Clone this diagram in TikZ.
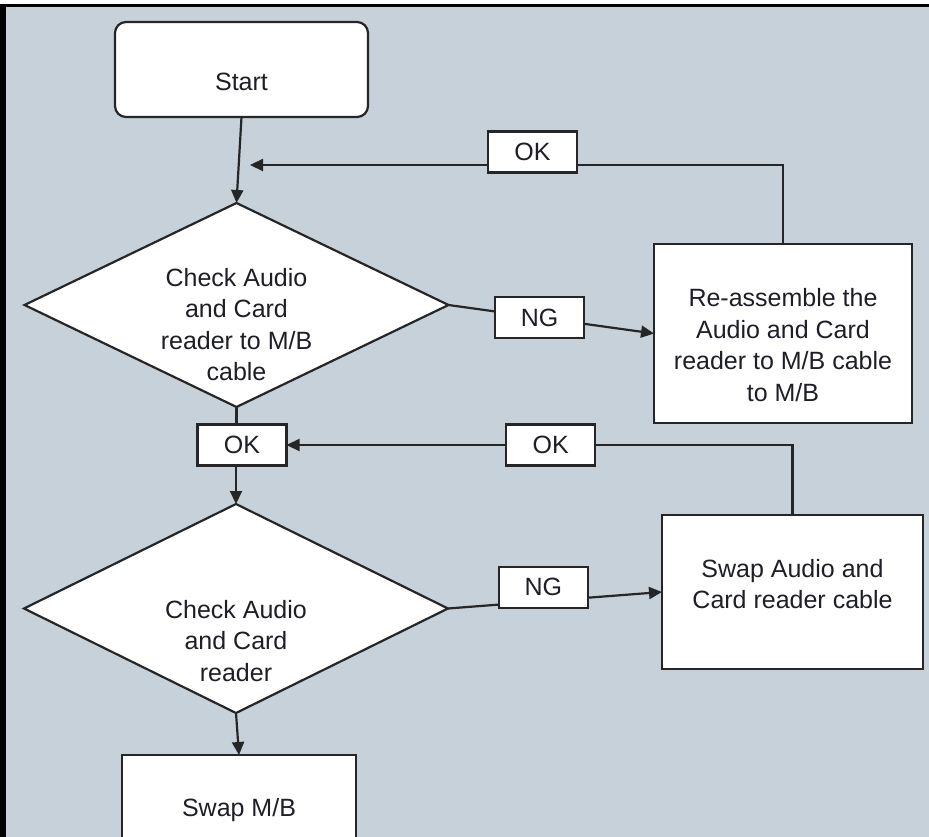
\documentclass[tikz,border=0pt]{standalone}
\usepackage{fontspec}
\setmainfont{Liberation Sans}
\definecolor{panel}{HTML}{C6D1D9}
\definecolor{ink}{HTML}{1E1E28}
\usetikzlibrary{arrows.meta,shapes.geometric}

\begin{document}
\begin{tikzpicture}[x=1pt,y=-1pt,
  box/.style={draw=black!85,line width=2.2pt,fill=white,inner sep=0pt,outer sep=0pt},
  term/.style={box,rounded corners=11pt},
  chk/.style={box,diamond},
  txt/.style={font=\fontsize{25}{31.5}\selectfont,text=ink,align=center},
  tag/.style={box,txt,minimum width=89pt,minimum height=41pt},
  wire/.style={line width=2.2pt,draw=black!85},
  arr/.style={wire,-{Triangle[length=13pt,width=12pt]}}]
  \useasboundingbox (0,0) rectangle (929,837);
  \clip (0,0) rectangle (929,837);
  \fill[white] (0,0) rectangle (929,837);
  \fill[panel] (0,4) rectangle (929,837);
  \fill[black] (0,4) rectangle (929,7.5);
  \fill[black] (0,4) rectangle (6,837);

  \node[term,minimum width=253pt,minimum height=95pt,
    label={[txt,yshift=-12.5pt]center:Start}] (start) at (241.5,69.5) {};
  \node[chk,minimum width=424pt,minimum height=204pt,
    label={[txt,yshift=-19.5pt]center:{Check Audio\\and Card\\reader to M/B\\cable}}] (chk1) at (236.5,305) {};
  \node[box,minimum width=258pt,minimum height=179pt,
    label={[txt,yshift=-11.5pt]center:{Re-assemble the\\Audio and Card\\reader to M/B cable\\to M/B}}] (fix1) at (783,333.5) {};
  \node[tag] (ok2) at (242,445) {OK};
  \node[chk,minimum width=424pt,minimum height=209pt,
    label={[txt,yshift=-32.5pt]center:{Check Audio\\and Card\\reader}}] (chk2) at (236,608.5) {};
  \node[box,minimum width=261pt,minimum height=154pt,
    label={[txt,yshift=8pt]center:{Swap Audio and\\Card reader cable}}] (fix2) at (792.5,592) {};
  \node[box,txt,minimum width=234pt,minimum height=110pt] (mb) at (239,810) {Swap M/B};
  \coordinate (back1) at (250,165);

  \draw[arr] (start.south) -- (chk1.north);
  \draw[wire] (chk1.south) -- (chk1.south |- ok2.north);
  \draw[arr] (ok2.south -| chk2.north) -- (chk2.north);
  \draw[arr] (chk2.south) -- (mb.north);
  \draw[arr] (chk1.east) -- node[tag,pos=0.443] (ng1) {NG} (fix1.west);
  \draw[arr] (chk2.east) -- node[tag,pos=0.446,yshift=14pt] (ng2) {NG} (fix2.west);
  \draw[arr] (fix1.north) |- node[tag,pos=0.735,yshift=13pt] (ok1) {OK} (back1);
  \draw[arr] (fix2.north) |- node[tag,pos=0.739] (ok3) {OK} (ok2.east);
\end{tikzpicture}
\end{document}
